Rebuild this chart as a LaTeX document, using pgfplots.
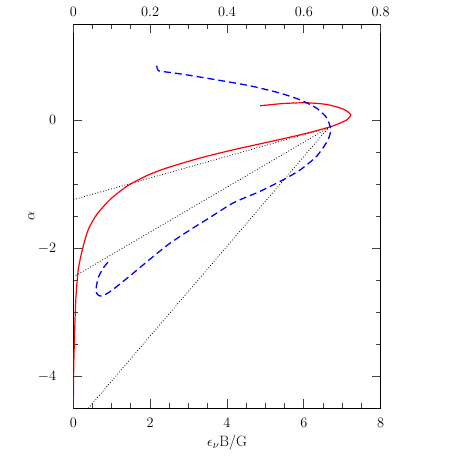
\documentclass[border=0pt]{standalone}
\usepackage{pgfplots}
\pgfplotsset{compat=1.18}

\pgfplotsset{
  frame/.style={
    scale only axis, width=307.4bp, height=384.3bp,
    at={(0,0)}, anchor=south west,
    ymin=-4.5, ymax=1.5,
    axis line style={line width=0.9bp, black},
    tick style={line width=0.9bp, black!75},
    major tick length=9bp, minor tick length=5bp,
    tick align=inside, minor tick num=3,
    tick label style={font=\fontsize{15}{17}\selectfont, inner sep=0pt},
  }
}

\begin{document}
\begin{tikzpicture}
\useasboundingbox (-73.3bp,-49.7bp) rectangle (384.7bp,408.3bp);

\begin{axis}[frame,
  xmin=0, xmax=8,
  xtick={0,2,4,6,8}, ytick={-4,-2,0},
  xtick pos=both, ytick pos=both,
  xticklabel pos=left, yticklabel pos=left,
  xticklabel style={anchor=center, yshift=-15bp},
  yticklabel style={anchor=east, xshift=-17bp},
  xlabel={$\epsilon_\nu$B/G}, ylabel={$\alpha$},
  every axis x label/.style={at={(axis description cs:0.5,0)}, anchor=center, yshift=-34bp, font=\fontsize{15}{17}\selectfont},
  every axis y label/.style={at={(axis description cs:0,0.5)}, anchor=center, xshift=-42bp, rotate=90, font=\fontsize{15}{17}\selectfont},
]
% tangent lines
\addplot[black, line width=0.8bp, dash pattern=on 0.8bp off 2bp] coordinates {(0,-1.242) (6.64,-0.12)};
\addplot[black, line width=0.8bp, dash pattern=on 0.8bp off 2bp] coordinates {(0,-2.45) (6.64,-0.12)};
\addplot[black, line width=0.8bp, dash pattern=on 0.8bp off 2bp] coordinates {(0.39,-4.5) (6.64,-0.12)};

% solid red
\addplot[red, line width=1.2bp, smooth, tension=0.4] coordinates {
  (4.86,0.223) (5.47,0.259) (6.07,0.270) (6.60,0.243) (7.03,0.171)
  (7.22,0.083) (7.12,0.005) (6.94,-0.047) (6.77,-0.089) (6.33,-0.167)
  (5.73,-0.255) (5.03,-0.349) (4.17,-0.463) (3.30,-0.592) (2.43,-0.748)
  (1.91,-0.868) (1.39,-1.035) (0.955,-1.242) (0.609,-1.476) (0.39,-1.71)
  (0.245,-2.0) (0.13,-2.33) (0.07,-2.75) (0.036,-3.27) (0.01,-3.89) (0,-4.5)
};

% dashed blue
\addplot[blue, line width=1.3bp, dash pattern=on 7bp off 4bp, smooth, tension=0.4] coordinates {
  (2.17,0.85) (2.22,0.77) (2.5,0.745) (2.95,0.706) (3.73,0.628)
  (4.60,0.535) (5.38,0.421) (5.90,0.316) (6.33,0.187) (6.60,0.03)
  (6.70,-0.15) (6.62,-0.32) (6.33,-0.567) (5.90,-0.78) (5.47,-0.93)
  (4.86,-1.113) (4.16,-1.294) (3.47,-1.554) (3.05,-1.71) (2.5,-1.93)
  (2.0,-2.17) (1.5,-2.42) (1.0,-2.66) (0.74,-2.75) (0.625,-2.72)
  (0.59,-2.645) (0.65,-2.46) (0.78,-2.31) (0.955,-2.18)
};
\end{axis}

\begin{axis}[frame,
  xmin=0, xmax=0.8,
  axis x line*=top, hide y axis,
  xtick={0,0.2,0.4,0.6,0.8},
  xticklabel style={anchor=center, yshift=12bp, /pgf/number format/fixed},
]
\end{axis}
\end{tikzpicture}
\end{document}
